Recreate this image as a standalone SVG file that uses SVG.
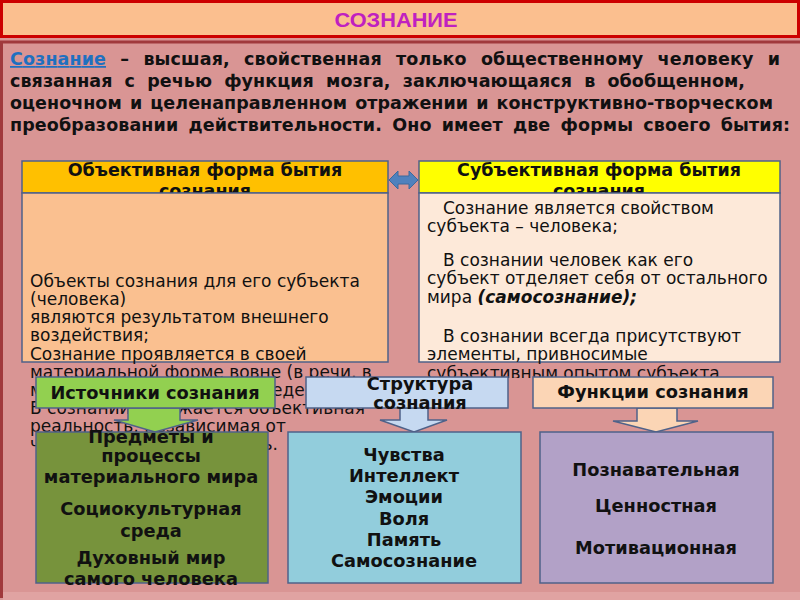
<svg xmlns="http://www.w3.org/2000/svg" width="800" height="600" viewBox="0 0 800 600">
<defs>
<style>
.def{font-family:"DejaVu Sans",sans-serif;font-weight:bold;font-size:17.5px;fill:#111}
.hdr{font-family:"DejaVu Sans",sans-serif;font-weight:bold;font-size:17.5px;fill:#111;text-anchor:middle}
.body{font-family:"DejaVu Sans",sans-serif;font-size:17px;fill:#111}
.lbl{font-family:"DejaVu Sans",sans-serif;font-weight:bold;font-size:17.8px;fill:#111;text-anchor:middle}
.item{font-family:"DejaVu Sans",sans-serif;font-weight:bold;font-size:17.8px;fill:#111;text-anchor:middle}
.box{stroke:#4F6289;stroke-width:1.5}
</style>
<clipPath id="rclip"><rect x="400" y="190" width="400" height="188"/></clipPath>
</defs>
<rect x="0" y="0" width="800" height="600" fill="#D99594"/>
<path d="M1.5,598 L1.5,42 L800,42" fill="none" stroke="#A0393C" stroke-width="3"/>
<rect x="3" y="592" width="797" height="8" fill="#E0A3A2"/>
<g id="title">
<rect x="1.5" y="1.5" width="797" height="35" fill="#FBBF8F" stroke="#CC0000" stroke-width="3"/>
<text x="396" y="27" font-family="Liberation Sans, sans-serif" font-weight="bold" font-size="21" fill="#C020C0" text-anchor="middle" textLength="123" lengthAdjust="spacingAndGlyphs">СОЗНАНИЕ</text>
</g>
<g id="definition" class="def">
<text x="10" y="65" textLength="770" lengthAdjust="spacing" word-spacing="8"><tspan fill="#1F70C0" text-decoration="underline">Сознание</tspan> – высшая, свойственная только общественному человеку и</text>
<text x="10" y="87" textLength="735" lengthAdjust="spacing" word-spacing="6">связанная с речью функция мозга, заключающаяся в обобщенном,</text>
<text x="10" y="109" textLength="763" lengthAdjust="spacing" word-spacing="2">оценочном и целенаправленном отражении и конструктивно-творческом</text>
<text x="10" y="131" textLength="780" lengthAdjust="spacing" word-spacing="4">преобразовании действительности. Оно имеет две формы своего бытия:</text>
</g>
<g id="objective">
<rect class="box" x="22" y="161" width="366" height="32" fill="#FFC000"/>
<text class="hdr" x="205" y="176">Объективная форма бытия</text>
<text class="hdr" x="205" y="197">сознания</text>
<rect class="box" x="22" y="193" width="366" height="169" fill="#FAC090"/>
<g class="body">
<text x="30" y="287">Объекты сознания для его субъекта</text>
<text x="30" y="305">(человека)</text>
<text x="30" y="323">являются результатом внешнего</text>
<text x="30" y="341">воздействия;</text>
<text x="30" y="360">Сознание проявляется в своей</text>
<text x="30" y="378">материальной форме вовне (в речи, в</text>
<text x="30" y="396">мимике, в действиях и поведении);</text>
<text x="30" y="414">В сознании отражается объективная</text>
<text x="30" y="432">реальность, независимая от</text>
<text x="30" y="450">человека и его активность.</text>
</g>
</g>
<g id="subjective">
<rect class="box" x="419" y="161" width="361" height="32" fill="#FFFF00"/>
<text class="hdr" x="599" y="176">Субъективная форма бытия</text>
<text class="hdr" x="599" y="197">сознания</text>
<rect class="box" x="419" y="193" width="361" height="169" fill="#FDE9D9"/>
<g class="body" clip-path="url(#rclip)">
<text x="443" y="214">Сознание является свойством</text>
<text x="427" y="232">субъекта – человека;</text>
<text x="443" y="266">В сознании человек как его</text>
<text x="427" y="284">субъект отделяет себя от остального</text>
<text x="427" y="303">мира <tspan font-style="italic" font-weight="bold">(самосознание);</tspan></text>
<text x="443" y="342">В сознании всегда присутствуют</text>
<text x="427" y="360">элементы, привносимые</text>
<text x="427" y="379">субъективным опытом субъекта</text>
</g>
</g>
<g id="connectors">
<path d="M389,180 L398,171 L398,176 L409,176 L409,171 L418,180 L409,189 L409,184 L398,184 L398,189 Z" fill="#4F81BD" stroke="#3A6A9E" stroke-width="1"/>
<path class="box" d="M128,408 L180,408 L180,420 L198,420 L155,432 L114,420 L128,420 Z" fill="#92D050"/>
<path class="box" d="M400,408 L428,408 L428,420 L447,420 L414,432 L380,420 L400,420 Z" fill="#C6D9F1"/>
<path class="box" d="M637,408 L677,408 L677,421 L698,421 L656,432 L613,421 L637,421 Z" fill="#FBD5B5"/>
</g>
<g id="sources">
<rect class="box" x="36" y="377" width="239" height="31" fill="#92D050"/>
<text class="lbl" x="155" y="399">Источники сознания</text>
</g>
<g id="structure">
<rect class="box" x="306" y="377" width="202" height="31" fill="#C6D9F1"/>
<text class="lbl" x="420" y="390">Структура</text>
<text class="lbl" x="420" y="409">сознания</text>
</g>
<g id="functions">
<rect class="box" x="533" y="377" width="240" height="31" fill="#FBD5B5"/>
<text class="lbl" x="653" y="398">Функции сознания</text>
</g>
<g id="sources-list">
<rect class="box" x="36" y="432" width="232" height="151" fill="#77933C"/>
<text class="item" x="151" y="443">Предметы и</text>
<text class="item" x="151" y="462">процессы</text>
<text class="item" x="151" y="483">материального мира</text>
<text class="item" x="151" y="515">Социокультурная</text>
<text class="item" x="151" y="537">среда</text>
<text class="item" x="151" y="564">Духовный мир</text>
<text class="item" x="151" y="585">самого человека</text>
</g>
<g id="structure-list">
<rect class="box" x="288" y="432" width="233" height="151" fill="#92CDDC"/>
<text class="item" x="404" y="461">Чувства</text>
<text class="item" x="404" y="482">Интеллект</text>
<text class="item" x="404" y="503">Эмоции</text>
<text class="item" x="404" y="525">Воля</text>
<text class="item" x="404" y="546">Память</text>
<text class="item" x="404" y="567">Самосознание</text>
</g>
<g id="functions-list">
<rect class="box" x="540" y="432" width="233" height="151" fill="#B2A1C7"/>
<text class="item" x="656" y="476">Познавательная</text>
<text class="item" x="656" y="512">Ценностная</text>
<text class="item" x="656" y="554">Мотивационная</text>
</g>
</svg>
